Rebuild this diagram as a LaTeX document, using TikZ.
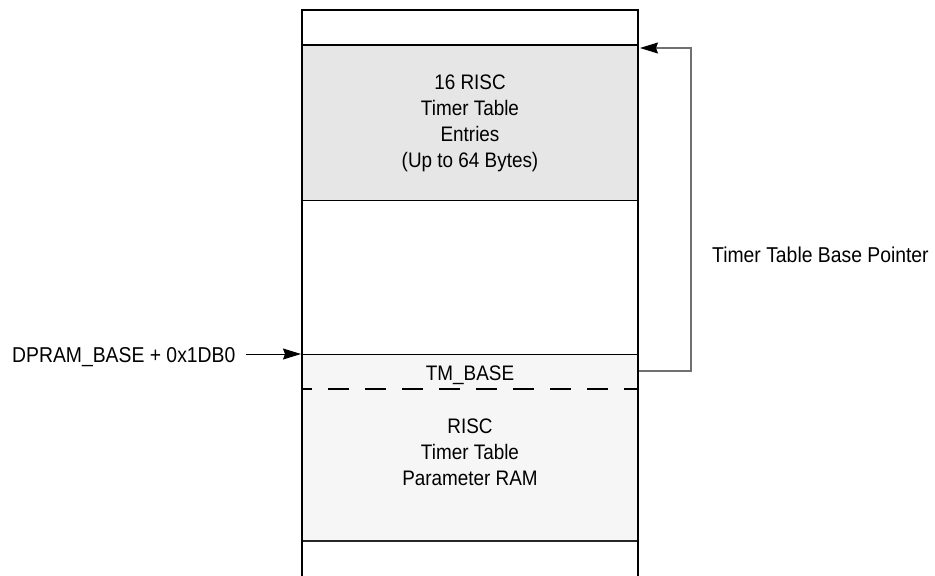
\documentclass[tikz,border=0pt]{standalone}
\usepackage{fontspec}
\setmainfont{Liberation Sans}[FakeStretch=0.9]
\usetikzlibrary{arrows.meta}
\definecolor{fillA}{HTML}{E6E6E6}
\definecolor{fillB}{HTML}{F6F6F6}
\definecolor{ptrgray}{HTML}{707070}
\begin{document}
\begin{tikzpicture}[x=1pt,y=-1pt,
  boxtext/.style={inner sep=0pt,align=center,font=\fontsize{21}{26}\selectfont},
  outlabel/.style={inner sep=0pt,font=\fontsize{21.5}{26}\selectfont},
  thickedge/.style={line width=2pt,black},
  thinedge/.style={line width=1pt,black},
  ptr/.style={line width=1.2pt,ptrgray},
  tip/.style={-{Stealth[length=18pt,width=11pt,inset=2pt,black]}}]
\useasboundingbox (0,0) rectangle (935,576);
% fills
\fill[fillA] (302,45) rectangle (638,200);
\fill[fillB] (302,354) rectangle (638,541);
% coordinates
\coordinate (topL) at (302,45);
\coordinate (topR) at (638,48);
\coordinate (tmL) at (302,354);
\coordinate (tmR) at (638,371);
\coordinate (bend) at (691,371);
% horizontal lines
\draw[thickedge] (302,10) -- (638,10);
\draw[thickedge] (302,45) -- (638,45);
\draw[thinedge] (302,200) -- (638,200);
\draw[thinedge] (302,354) -- (638,354);
\draw[line width=1.3pt,black!85] (302,541) -- (638,541);
\draw[line width=2pt,dash pattern=on 21pt off 16pt,dash phase=11pt] (302,389) -- (638,389);
% sides
\draw[thickedge] (302,9) -- (302,576);
\draw[thickedge] (638,9) -- (638,576);
% texts
\node[boxtext,anchor=north] (entries) at (470,75) {16 RISC\\Timer Table\\Entries\\(Up to 64 Bytes)};
\node[boxtext,anchor=base] (tmbase) at (470,380) {TM\_BASE};
\node[boxtext,anchor=north] (param) at (470,419) {RISC\\Timer Table\\Parameter RAM};
\node[outlabel,anchor=base west] (dpram) at (12,362) {DPRAM\_BASE + 0x1DB0};
\node[outlabel,anchor=base west] (ptrlabel) at (712,262) {Timer Table Base Pointer};
% connectors
\draw[line width=1pt,tip] ([xshift=10pt]dpram.east |- tmL) -- ([xshift=-1pt]tmL);
\draw[ptr,tip] ([xshift=1pt]tmR) -- (bend) |- ([xshift=2pt]topR);
\end{tikzpicture}
\end{document}
